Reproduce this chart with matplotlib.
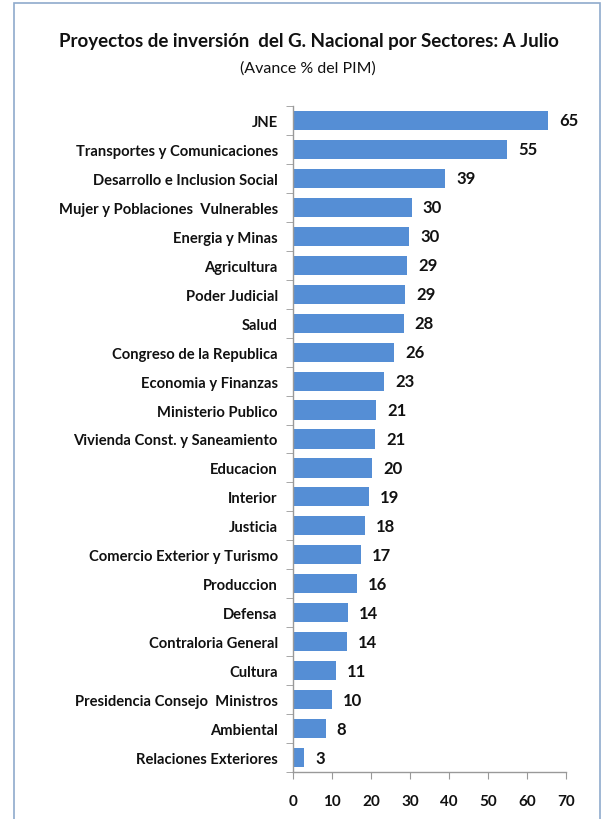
import matplotlib
matplotlib.use("Agg")
import matplotlib.pyplot as plt
from matplotlib.patches import Rectangle
import numpy as np

categories = ["JNE", "Transportes y Comunicaciones", "Desarrollo e Inclusion Social",
              "Mujer y Poblaciones  Vulnerables", "Energia y Minas", "Agricultura",
              "Poder Judicial", "Salud", "Congreso de la Republica", "Economia y Finanzas",
              "Ministerio Publico", "Vivienda Const. y Saneamiento", "Educacion", "Interior",
              "Justicia", "Comercio Exterior y Turismo", "Produccion", "Defensa",
              "Contraloria General", "Cultura", "Presidencia Consejo  Ministros",
              "Ambiental", "Relaciones Exteriores"]
values = [65.4, 54.9, 39.0, 30.4, 29.7, 29.2, 28.7, 28.4, 25.9, 23.3, 21.4, 21.0, 20.3,
          19.4, 18.4, 17.4, 16.4, 14.1, 13.8, 11.0, 10.0, 8.4, 2.8]
value_labels = ["65", "55", "39", "30", "30", "29", "29", "28", "26", "23", "21", "21", "20",
                "19", "18", "17", "16", "14", "14", "11", "10", "8", "3"]
xticks = [0, 10, 20, 30, 40, 50, 60, 70]

plt.rcParams['font.family'] = ['Lato', 'DejaVu Sans']

fig = plt.figure(figsize=(6.03, 8.2), dpi=100)
fig.patches.append(Rectangle((14/603, -0.1), (600-14)/603, 1.1 - 4/820, transform=fig.transFigure,
                             fill=False, edgecolor='#8faacc', linewidth=1.2))

ax = fig.add_axes([293/603, 1-773/820, (566-293)/603, (773-107)/820])
y = np.arange(len(categories))
bars = ax.barh(y, values, height=0.66, color='#558ed5')
ax.set_ylim(len(categories)-0.5, -0.5)
ax.set_xlim(0, 70)
labels = ax.bar_label(bars, labels=value_labels, padding=8, fontsize=12,
                      fontweight='bold', color='#111111')

ax.set_yticks(y)
ax.set_yticklabels(categories, fontsize=10.6, fontweight='bold', color='#111111')
ax.tick_params(axis='y', which='major', length=0, pad=11)
ax.set_yticks(np.arange(-0.5, len(categories)), minor=True)
ax.tick_params(axis='y', which='minor', length=5, color='#999999', direction='out')

ax.set_xticks(xticks)
ax.set_xticklabels([str(t) for t in xticks], fontsize=11, fontweight='bold', color='#111111')
ax.tick_params(axis='x', length=5, color='#999999', direction='out', pad=11)

for s in ['top', 'right']:
    ax.spines[s].set_visible(False)
for s in ['left', 'bottom']:
    ax.spines[s].set_color('#999999')
    ax.spines[s].set_linewidth(1)

fig.text(309/603, 1-42/820, "Proyectos de inversión  del G. Nacional por Sectores: A Julio",
         ha='center', va='center', fontsize=13.5, fontweight='bold', color='#111111')
fig.text(308/603, 1-69/820, "(Avance % del PIM)", ha='center', va='center', fontsize=11.5,
         color='#111111')

fig.savefig("out.png", dpi=100)
